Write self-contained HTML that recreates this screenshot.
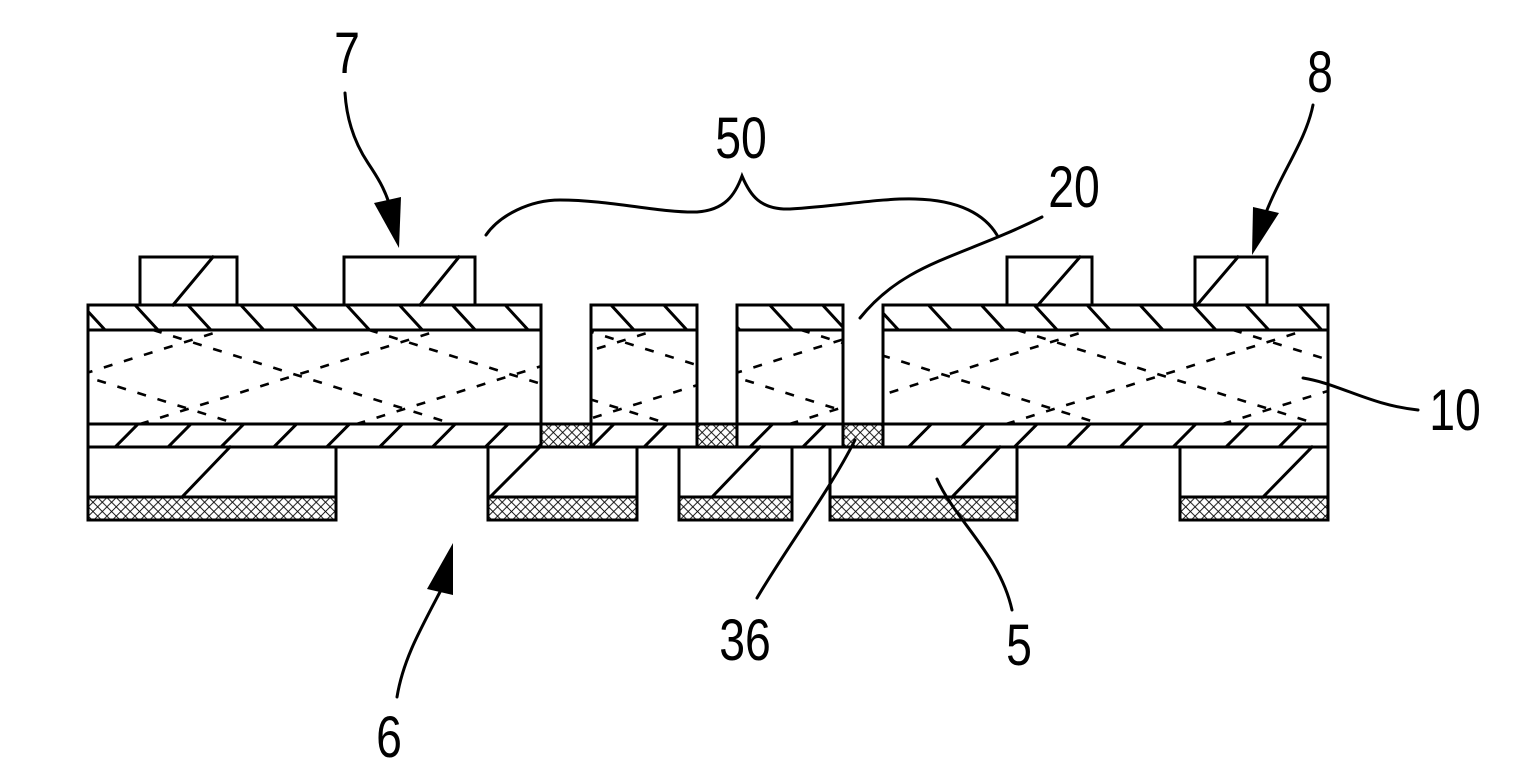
<!DOCTYPE html>
<html>
<head>
<meta charset="utf-8">
<style>
  html,body{margin:0;padding:0;background:#fff;}
  svg{display:block;}
  text{font-family:"Liberation Sans",sans-serif;font-size:58px;fill:#000;}
</style>
</head>
<body>
<svg width="1520" height="766" viewBox="0 0 1520 766" xmlns="http://www.w3.org/2000/svg">
  <defs>
    <pattern id="xh" width="9.3" height="9.3" patternUnits="userSpaceOnUse">
      <path d="M0,0 L9.3,9.3 M9.3,0 L0,9.3" stroke="#000" stroke-width="0.9" fill="none"/>
    </pattern>
    <clipPath id="topClip">
      <rect x="88" y="305" width="453" height="25"/>
      <rect x="591" y="305" width="106" height="25"/>
      <rect x="737" y="305" width="106" height="25"/>
      <rect x="883" y="305" width="445" height="25"/>
    </clipPath>
    <clipPath id="coreClip">
      <rect x="88" y="330" width="453" height="94"/>
      <rect x="591" y="330" width="106" height="94"/>
      <rect x="737" y="330" width="106" height="94"/>
      <rect x="883" y="330" width="445" height="94"/>
    </clipPath>
    <clipPath id="botClip">
      <rect x="88" y="424" width="453" height="23"/>
      <rect x="591" y="424" width="106" height="23"/>
      <rect x="737" y="424" width="106" height="23"/>
      <rect x="883" y="424" width="445" height="23"/>
    </clipPath>
  </defs>

  <rect x="0" y="0" width="1520" height="766" fill="#fff"/>

  <!-- cross-hatched regions -->
  <g fill="url(#xh)">
    <rect x="541" y="424" width="50" height="23"/>
    <rect x="697" y="424" width="40" height="23"/>
    <rect x="843" y="424" width="40" height="23"/>
    <rect x="88" y="497" width="248" height="23"/>
    <rect x="488" y="497" width="149" height="23"/>
    <rect x="679" y="497" width="113" height="23"/>
    <rect x="830" y="497" width="187" height="23"/>
    <rect x="1180" y="497" width="148" height="23"/>
  </g>

  <!-- top layer hatch "\" -->
  <g clip-path="url(#topClip)" stroke="#000" stroke-width="3" fill="none">
    <path d="M79.8,302.5 l27.6,30 M132.7,302.5 l27.6,30 M185.6,302.5 l27.6,30 M238.5,302.5 l27.6,30 M291.3,302.5 l27.6,30 M344.2,302.5 l27.6,30 M397.1,302.5 l27.6,30 M450,302.5 l27.6,30 M502.9,302.5 l27.6,30 M555.8,302.5 l27.6,30 M608.7,302.5 l27.6,30 M661.6,302.5 l27.6,30 M714.5,302.5 l27.6,30 M767.4,302.5 l27.6,30 M820.3,302.5 l27.6,30 M873.2,302.5 l27.6,30 M926.1,302.5 l27.6,30 M979,302.5 l27.6,30 M1031.9,302.5 l27.6,30 M1084.8,302.5 l27.6,30 M1137.7,302.5 l27.6,30 M1190.6,302.5 l27.6,30 M1243.5,302.5 l27.6,30 M1296.4,302.5 l27.6,30 M1349.3,302.5 l27.6,30"/>
  </g>

  <!-- bottom layer hatch "/" -->
  <g clip-path="url(#botClip)" stroke="#000" stroke-width="3" fill="none">
    <path d="M59.3,450 l28.8,-29 M112.2,450 l28.8,-29 M165.1,450 l28.8,-29 M218,450 l28.8,-29 M270.8,450 l28.8,-29 M323.7,450 l28.8,-29 M376.6,450 l28.8,-29 M429.5,450 l28.8,-29 M482.4,450 l28.8,-29 M535.3,450 l28.8,-29 M588.2,450 l28.8,-29 M641.1,450 l28.8,-29 M694,450 l28.8,-29 M746.9,450 l28.8,-29 M799.8,450 l28.8,-29 M852.7,450 l28.8,-29 M905.6,450 l28.8,-29 M958.5,450 l28.8,-29 M1011.4,450 l28.8,-29 M1064.3,450 l28.8,-29 M1117.2,450 l28.8,-29 M1170.1,450 l28.8,-29 M1223,450 l28.8,-29 M1275.9,450 l28.8,-29 M1328.8,450 l28.8,-29"/>
  </g>

  <!-- core dashed lines -->
  <g clip-path="url(#coreClip)" stroke="#000" stroke-width="2.6" fill="none" stroke-dasharray="9 12">
    <path d="M-293,424 l300,-94 M-76.5,424 l300,-94 M140,424 l300,-94 M356.5,424 l300,-94 M573,424 l300,-94 M789.5,424 l300,-94 M1006,424 l300,-94 M1222.5,424 l300,-94"/>
    <path d="M-279,330 l300,94 M-63,330 l300,94 M153,330 l300,94 M369,330 l300,94 M585,330 l300,94 M801,330 l300,94 M1017,330 l300,94 M1233,330 l300,94"/>
  </g>

  <!-- outlines -->
  <g stroke="#000" stroke-width="3" fill="none" stroke-linecap="square">
    <rect x="140" y="257" width="97" height="48"/>
    <rect x="344" y="257" width="131" height="48"/>
    <rect x="1007" y="257" width="85" height="48"/>
    <rect x="1195" y="257" width="72" height="48"/>
    <path d="M173,305 L213,257 M420,305 L459,257 M1038,305 L1080,257 M1197,305 L1238,257"/>

    <rect x="88" y="305" width="453" height="142"/>
    <rect x="591" y="305" width="106" height="142"/>
    <rect x="737" y="305" width="106" height="142"/>
    <rect x="883" y="305" width="445" height="142"/>
    <path d="M88,330 H541 M591,330 H697 M737,330 H843 M883,330 H1328"/>
    <path d="M88,424 H1328 M88,447 H1328"/>

    <rect x="88" y="447" width="248" height="73"/>
    <rect x="488" y="447" width="149" height="73"/>
    <rect x="679" y="447" width="113" height="73"/>
    <rect x="830" y="447" width="187" height="73"/>
    <rect x="1180" y="447" width="148" height="73"/>
    <path d="M88,497 H336 M488,497 H637 M679,497 H792 M830,497 H1017 M1180,497 H1328"/>
    <path d="M182,497 L230,447 M490,497 L540,447 M712,497 L760,447 M952,497 L1000,447 M1263,497 L1312,447"/>
  </g>

  <!-- leader lines -->
  <g stroke="#000" stroke-width="3" fill="none" stroke-linecap="round">
    <path d="M345,93 C347,125 358,148 368,163 S384,188 389,203"/>
    <path d="M1313,105 C1306,140 1283,170 1267,210"/>
    <path d="M397,697 C403,660 420,630 441,590"/>
    <path d="M1303,378 C1340,384 1370,405 1418,410"/>
    <path d="M757,598 C785,550 830,490 855,440"/>
    <path d="M937,479 C955,520 1000,555 1012,610"/>
    <path d="M1042,217 C960,258 905,262 860,318"/>
    <path d="M486,235 C500,215 530,200 560,200 C610,200 660,213 697,212 C725,210 735,195 742,176 C750,195 760,210 790,209 C840,206 880,198 915,199 C960,200 985,215 997,235"/>
  </g>

  <!-- arrowheads -->
  <g fill="#000" stroke="none">
    <polygon points="374,203 401,197 399,248"/>
    <polygon points="1253,207 1279,213 1252,255"/>
    <polygon points="427,589 453,595 453,543"/>
  </g>

  <!-- labels -->
  <g text-anchor="middle">
    <text transform="translate(347,73) scale(0.8,1)">7</text>
    <text transform="translate(741,158) scale(0.8,1)">50</text>
    <text transform="translate(1074,207) scale(0.8,1)">20</text>
    <text transform="translate(1320,92) scale(0.8,1)">8</text>
    <text transform="translate(1455,430) scale(0.8,1)">10</text>
    <text transform="translate(745,660) scale(0.8,1)">36</text>
    <text transform="translate(1019,665) scale(0.8,1)">5</text>
    <text transform="translate(389,757) scale(0.8,1)">6</text>
  </g>
</svg>
</body>
</html>
